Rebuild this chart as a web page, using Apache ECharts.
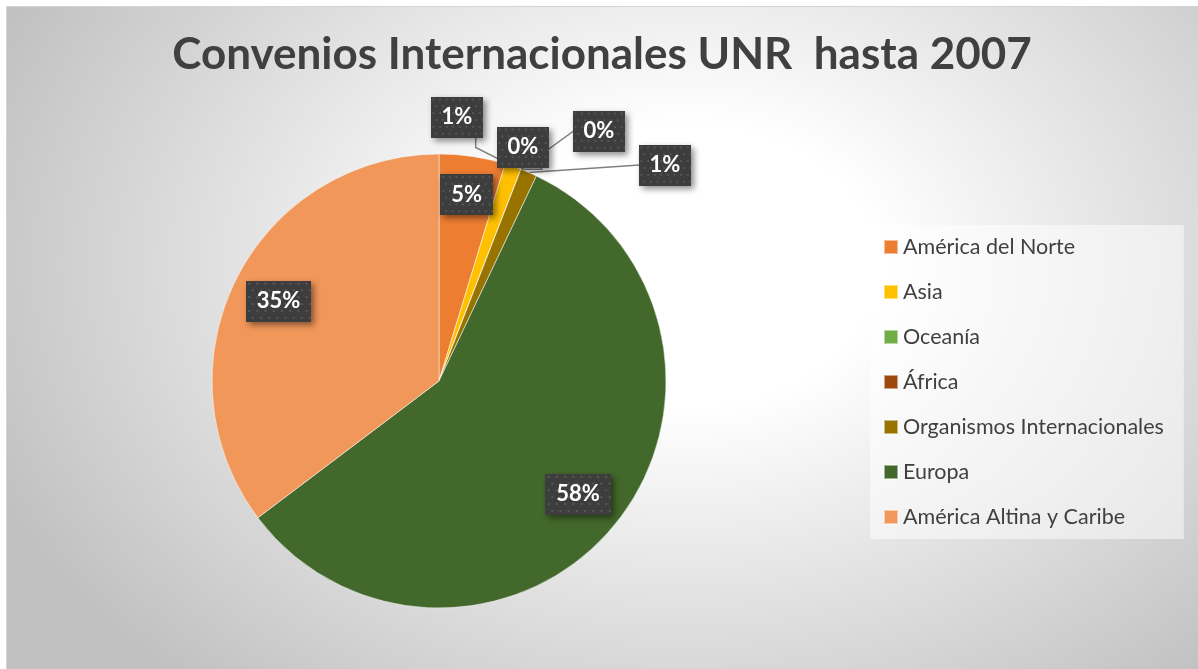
<!DOCTYPE html>
<html>
<head>
<meta charset="utf-8">
<title>Convenios Internacionales UNR hasta 2007</title>
<script src="https://cdn.jsdelivr.net/npm/echarts@6/dist/echarts.min.js"></script>
<style>
  html, body { margin: 0; padding: 0; background: #fff; }
  #chart {
    position: absolute;
    left: 6px;
    top: 6px;
    width: 1192px;
    height: 663px;
    background: radial-gradient(ellipse 760px 560px at 680px 260px, #ffffff 0%, #ffffff 25%, #c0c0c0 100%);
    box-shadow: inset 1px 1px 0 #d4d4d4;
  }
</style>
</head>
<body>
<div id="chart"></div>
<script>
  // data
  const categories = [
    'América del Norte',
    'Asia',
    'Oceanía',
    'África',
    'Organismos Internacionales',
    'Europa',
    'América Altina y Caribe',
  ];
  const convenios = [4, 1, 0, 0, 1, 49, 30];

  // styles / layout
  const colors = ['#ED7D31', '#FFC000', '#70AD47', '#9E480E', '#997300', '#43682B', '#F1975A'];
  const pieCenter = [433, 375];
  const pieRadius = 227;
  // labels drawn inside the slice (radius fraction) or placed outside (box centre)
  const insideLabel = { 0: 0.83, 5: 0.79, 6: 0.79 };
  const outsideLabel = { 1: [451, 111], 2: [517, 141], 3: [593, 125], 4: [659, 159] };

  const total = convenios.reduce((a, b) => a + b, 0);
  const midAngles = [];
  let acc = 0;
  convenios.forEach((v) => {
    midAngles.push(((acc + v / 2) / total) * Math.PI * 2);
    acc += v;
  });

  // dotted dark fill for the data label boxes
  function dottedBox() {
    const c = document.createElement('canvas');
    c.width = 56;
    c.height = 42;
    const ctx = c.getContext('2d');
    ctx.fillStyle = '#3d3d3d';
    ctx.fillRect(0, 0, c.width, c.height);
    ctx.fillStyle = '#555555';
    for (let y = 2, row = 0; y < c.height; y += 7, row++) {
      for (let x = (row % 2) * 3 + 2; x < c.width; x += 7) {
        ctx.fillRect(x, y, 2, 2);
      }
    }
    return c;
  }

  const chart = echarts.init(document.getElementById('chart'), null, { renderer: 'canvas' });

  chart.setOption({
    animation: false,
    backgroundColor: 'transparent',
    color: colors,
    title: {
      text: 'Convenios Internacionales UNR  hasta 2007',
      left: 'center',
      top: 22,
      textStyle: {
        fontFamily: 'Lato',
        fontWeight: 'bold',
        fontSize: 44,
        color: '#404040',
      },
    },
    legend: {
      orient: 'vertical',
      left: 864,
      top: 219,
      padding: [10, 20, 10, 13],
      backgroundColor: 'rgba(255,255,255,0.5)',
      icon: 'rect',
      itemWidth: 14,
      itemHeight: 14,
      itemGap: 21,
      data: categories,
      textStyle: {
        fontFamily: 'Lato',
        fontSize: 21.5,
        lineHeight: 24,
        color: '#404040',
      },
    },
    series: [
      {
        type: 'pie',
        center: pieCenter,
        radius: pieRadius,
        startAngle: 90,
        clockwise: true,
        percentPrecision: 0,
        avoidLabelOverlap: false,
        minShowLabelAngle: 0,
        emphasis: { disabled: true },
        itemStyle: {
          borderColor: 'rgba(255,255,255,0.5)',
          borderWidth: 1,
        },
        label: {
          show: true,
          formatter: '{d}%',
          fontFamily: 'Lato',
          fontWeight: 'bold',
          fontSize: 22,
          color: '#ffffff',
          backgroundColor: { image: dottedBox() },
          padding: [10, 11, 9, 11],
          shadowColor: 'rgba(0,0,0,0.45)',
          shadowBlur: 6,
          shadowOffsetX: 3,
          shadowOffsetY: 3,
        },
        labelLine: {
          show: true,
          length: 10,
          length2: 10,
          lineStyle: { color: '#808080', width: 1.5 },
        },
        labelLayout: function (params) {
          const i = params.dataIndex;
          if (insideLabel[i] != null) {
            const r = pieRadius * insideLabel[i];
            return {
              x: pieCenter[0] + r * Math.sin(midAngles[i]),
              y: pieCenter[1] - r * Math.cos(midAngles[i]),
              align: 'center',
              verticalAlign: 'middle',
            };
          }
          const p = outsideLabel[i];
          return { x: p[0], y: p[1], align: 'center', verticalAlign: 'middle' };
        },
        data: categories.map((name, i) => ({
          name: name,
          value: convenios[i],
          label: { position: insideLabel[i] != null ? 'inside' : 'outside' },
          labelLine: { show: insideLabel[i] == null },
        })),
      },
    ],
  });
</script>
</body>
</html>
